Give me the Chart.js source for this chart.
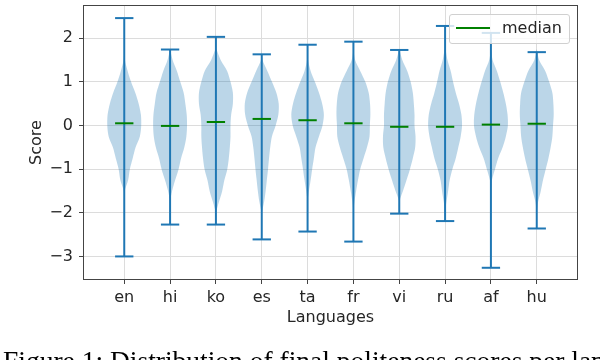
<!DOCTYPE html>
<html>
<head>
<meta charset="utf-8">
<script src="https://cdn.jsdelivr.net/npm/chart.js@4/dist/chart.umd.min.js"></script>
<style>
  html, body { margin: 0; padding: 0; background: #fff; overflow: hidden; }
  #wrap { position: relative; width: 600px; height: 360px; overflow: hidden; }
  #legendBox {
    position: absolute; left: 449px; top: 14px; width: 119px; height: 28px;
    border: 1px solid #d0d0d0; border-radius: 3px; background: rgba(255,255,255,0.8);
    font-family: "DejaVu Sans"; font-size: 16px; color: #262626;
  }
  #legendBox .swatch { position: absolute; left: 6px; top: 12px; width: 34px; height: 2px; background: #008000; }
  #legendBox .label { position: absolute; left: 52px; top: 3px; line-height: 20px; }
  #caption {
    position: absolute; left: 3px; top: 347px; white-space: nowrap;
    font-family: "Liberation Serif"; font-size: 27.5px; line-height: 28px; color: #000;
  }
</style>
</head>
<body>
<div id="wrap">
  <canvas id="violinChart" width="600" height="360"></canvas>
  <div id="legendBox"><div class="swatch"></div><div class="label">median</div></div>
  <div id="caption">Figure 1: Distribution of final politeness scores per language</div>
</div>
<script>
const languages = ["en", "hi", "ko", "es", "ta", "fr", "vi", "ru", "af", "hu"];
const maxima = [2.46, 1.74, 2.03, 1.63, 1.85, 1.92, 1.73, 2.28, 2.12, 1.68];
const minima = [-3.0, -2.27, -2.27, -2.61, -2.43, -2.66, -2.02, -2.19, -3.26, -2.36];
const medians = [0.05, -0.01, 0.08, 0.15, 0.12, 0.05, -0.03, -0.03, 0.02, 0.04];
const yTicks = [-3, -2, -1, 0, 1, 2];

// relative violin half-widths at these score levels (1 = widest)
const densityLevels = [1.75, 1.5, 1.25, 1.0, 0.75, 0.5, 0.25, 0, -0.25, -0.5, -0.75, -1.0, -1.25, -1.5, -1.75, -2.0];
const densities = [
    [0, 0.04, 0.2, 0.4, 0.65, 0.85, 0.98, 1.0, 0.92, 0.67, 0.5, 0.33, 0.23, 0.03, 0, 0],
    [0, 0.15, 0.4, 0.6, 0.8, 0.9, 0.98, 1.0, 0.96, 0.84, 0.65, 0.5, 0.3, 0.12, 0, 0],
    [0.02, 0.28, 0.66, 0.86, 1.0, 1.0, 0.9, 0.86, 0.86, 0.82, 0.76, 0.67, 0.5, 0.37, 0.18, 0],
    [0, 0.05, 0.33, 0.6, 0.86, 1.0, 0.98, 0.82, 0.6, 0.5, 0.43, 0.37, 0.3, 0.23, 0.14, 0],
    [0, 0.03, 0.18, 0.43, 0.67, 0.86, 0.96, 0.88, 0.67, 0.47, 0.37, 0.27, 0.18, 0.08, 0, 0],
    [0, 0.1, 0.4, 0.7, 0.9, 0.98, 1.0, 0.97, 0.95, 0.8, 0.6, 0.4, 0.27, 0.16, 0.06, 0],
    [0, 0.18, 0.47, 0.67, 0.8, 0.86, 0.9, 0.9, 0.96, 0.94, 0.8, 0.63, 0.43, 0.22, 0, 0],
    [0.02, 0.14, 0.33, 0.47, 0.63, 0.82, 0.96, 1.0, 0.92, 0.78, 0.63, 0.43, 0.27, 0.18, 0.08, 0],
    [0, 0.1, 0.35, 0.55, 0.73, 0.88, 0.98, 1.0, 0.88, 0.69, 0.43, 0.24, 0.06, 0, 0, 0],
    [0, 0.14, 0.5, 0.73, 0.92, 0.98, 1.0, 0.96, 0.92, 0.82, 0.69, 0.53, 0.37, 0.24, 0.08, 0]
];

const positions = languages.map((_, i) => i + 1);
const halfWidth = 0.37;
const capHalf = 0.2;
const blue = "#1f77b4";

const datasets = [];

positions.forEach((pos, i) => {
    const right = [];
    const left = [];
    densityLevels.forEach((lvl, j) => {
        const w = densities[i][j] * halfWidth;
        right.unshift({ x: pos + w, y: lvl });
        left.push({ x: pos - w, y: lvl });
    });
    datasets.push({
        data: right.concat(left),
        backgroundColor: "rgba(31,119,180,0.3)",
        borderColor: "rgba(0,0,0,0)",
        borderWidth: 0,
        fill: "shape",
        tension: 0.3,
        order: 3
    });
    datasets.push({
        data: [{ x: pos, y: minima[i] }, { x: pos, y: maxima[i] }],
        borderColor: blue, borderWidth: 2, order: 1
    });
    datasets.push({
        data: [{ x: pos - capHalf, y: maxima[i] }, { x: pos + capHalf, y: maxima[i] }],
        borderColor: blue, borderWidth: 2, order: 1
    });
    datasets.push({
        data: [{ x: pos - capHalf, y: minima[i] }, { x: pos + capHalf, y: minima[i] }],
        borderColor: blue, borderWidth: 2, order: 1
    });
    datasets.push({
        label: i === 0 ? "median" : "",
        data: [{ x: pos - capHalf, y: medians[i] }, { x: pos + capHalf, y: medians[i] }],
        borderColor: "#008000", borderWidth: 2, order: 0
    });
});

const framePlugin = {
    id: "frame",
    afterDraw(chart) {
        const { ctx, chartArea: a } = chart;
        ctx.save();
        ctx.strokeStyle = "#444";
        ctx.lineWidth = 1;
        ctx.strokeRect(a.left + 0.5, a.top + 0.5, a.right - a.left - 1, a.bottom - a.top - 1);
        ctx.restore();
    }
};

Chart.defaults.font.family = "DejaVu Sans";
Chart.defaults.font.size = 16;
Chart.defaults.color = "#262626";

new Chart(document.getElementById("violinChart"), {
    type: "line",
    data: { datasets },
    options: {
        responsive: false,
        animation: false,
        layout: { padding: { left: 23, top: 5, right: 22, bottom: 30 } },
        elements: { point: { radius: 0, hoverRadius: 0 }, line: { capBezierPoints: false } },
        plugins: { legend: { display: false }, tooltip: { enabled: false } },
        scales: {
            x: {
                type: "linear",
                min: 0.1,
                max: 10.9,
                afterBuildTicks: (s) => { s.ticks = positions.map((v) => ({ value: v })); },
                afterFit: (s) => { s.height = 50; s.paddingLeft = 0; s.paddingRight = 0; },
                ticks: { callback: (v) => languages[v - 1], padding: 4, maxRotation: 0, autoSkip: false },
                grid: { color: "#dcdcdc", tickColor: "#444", tickLength: 4 },
                border: { display: false },
                title: { display: true, text: "Languages", padding: { top: 0, bottom: 3 } }
            },
            y: {
                min: -3.54,
                max: 2.76,
                afterBuildTicks: (s) => { s.ticks = yTicks.map((v) => ({ value: v })); },
                afterFit: (s) => { s.width = 60; s.paddingTop = 0; s.paddingBottom = 0; },
                ticks: { callback: (v) => String(v).replace("-", "\u2212"), padding: 6 },
                grid: { color: "#dcdcdc", tickColor: "#444", tickLength: 4 },
                border: { display: false },
                title: { display: true, text: "Score", padding: { top: 4, bottom: 0 } }
            }
        }
    },
    plugins: [framePlugin]
});
</script>
</body>
</html>
